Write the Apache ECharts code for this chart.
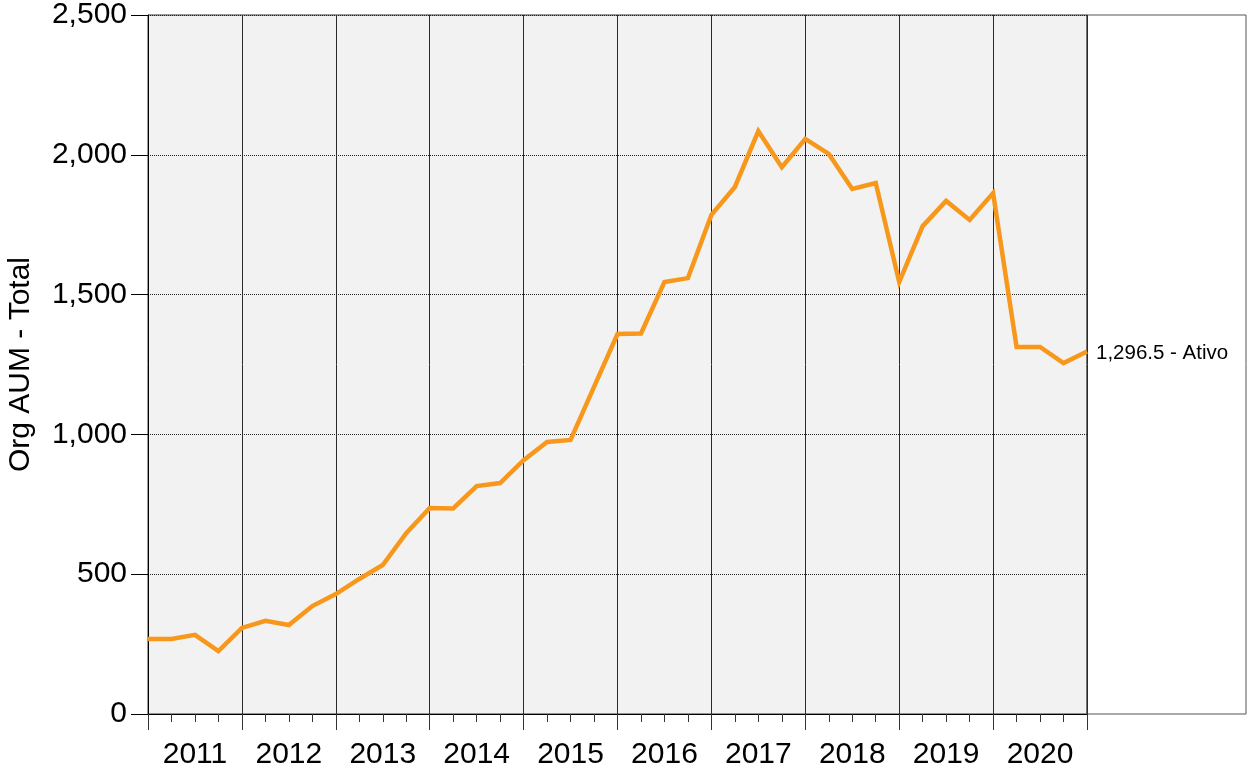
<!DOCTYPE html>
<html>
<head>
<meta charset="utf-8">
<script src="https://cdn.jsdelivr.net/npm/echarts@6/dist/echarts.min.js"></script>
<style>
html,body{margin:0;padding:0;background:#fff;}
#chart{width:1247px;height:771px;}
</style>
</head>
<body>
<div id="chart"></div>
<script>
const years = ['2011','2012','2013','2014','2015','2016','2017','2018','2019','2020'];
const values = [268, 268, 283, 225, 308, 333, 318, 386, 429, 483, 533, 647, 737, 735, 815, 826, 908, 973, 980, 1170, 1359, 1361, 1545, 1559, 1785, 1885, 2085, 1956, 2057, 2003, 1878, 1899, 1545, 1745, 1835, 1767, 1863, 1313, 1313, 1255, 1296.5];
const yTicks = [0, 500, 1000, 1500, 2000, 2500];
const seriesName = 'Ativo';
const yTitle = 'Org AUM - Total';

const FONT = "'Liberation Sans', Arial, sans-serif";
const points = values.map((v, i) => [i, v]);
const fmt = v => Number(v).toLocaleString('en-US');
const last = values[values.length - 1];
const lastLabel = Number(last).toLocaleString('en-US', {minimumFractionDigits: 1, maximumFractionDigits: 1}) + ' - ' + seriesName;

const chart = echarts.init(document.getElementById('chart'), null, {renderer: 'canvas'});
chart.setOption({
  animation: false,
  backgroundColor: '#fff',
  textStyle: {fontFamily: FONT},
  grid: [
    {left: 148, top: 15, width: 939, height: 699, show: true, backgroundColor: '#f2f2f2', borderColor: '#333', borderWidth: 1, containLabel: false, outerBoundsMode: 'none'},
    {left: 1087, top: 15, width: 159, height: 699, show: true, backgroundColor: '#fff', borderColor: '#555', borderWidth: 1, containLabel: false, outerBoundsMode: 'none'}
  ],
  xAxis: [
    {
      gridIndex: 0, type: 'category', data: years, boundaryGap: true, position: 'bottom',
      axisLine: {show: true, lineStyle: {color: '#000', width: 1}},
      axisTick: {show: true, interval: 0, length: 16, lineStyle: {color: '#333', width: 1}},
      axisLabel: {interval: 0, fontSize: 30, color: '#000', margin: 26, fontFamily: FONT},
      splitLine: {show: true, interval: 0, lineStyle: {color: '#2a2a2a', width: 1, type: 'solid'}}
    },
    {
      gridIndex: 0, type: 'value', min: 0, max: values.length - 1, interval: 1, position: 'bottom',
      axisLine: {show: false},
      axisTick: {show: true, length: 8, lineStyle: {color: '#333', width: 1}},
      axisLabel: {show: false},
      splitLine: {show: false}
    },
    {gridIndex: 1, type: 'value', show: false, min: 0, max: 1}
  ],
  yAxis: [
    {
      gridIndex: 0, type: 'value', min: yTicks[0], max: yTicks[yTicks.length - 1], interval: yTicks[1] - yTicks[0],
      name: yTitle, nameLocation: 'middle', nameGap: 112,
      nameTextStyle: {fontSize: 30, color: '#000', fontFamily: FONT},
      axisLine: {show: true, lineStyle: {color: '#000', width: 1}},
      axisTick: {show: true, length: 17, lineStyle: {color: '#000', width: 1}},
      axisLabel: {fontSize: 30, color: '#000', margin: 21, formatter: fmt, fontFamily: FONT},
      splitLine: {show: true, lineStyle: {color: '#222', width: 1, type: 'dotted'}}
    },
    {gridIndex: 1, type: 'value', show: false, min: 0, max: 1}
  ],
  series: [{
    name: seriesName,
    type: 'line',
    xAxisIndex: 1,
    yAxisIndex: 0,
    data: points,
    showSymbol: false,
    symbol: 'none',
    lineStyle: {color: '#f7981d', width: 4.5, join: 'miter'},
    itemStyle: {color: '#f7981d'},
    endLabel: {show: true, formatter: () => lastLabel, fontSize: 20.5, color: '#000', distance: 9, offset: [0, 2], fontFamily: FONT},
    z: 5
  }]
});
</script>
</body>
</html>
